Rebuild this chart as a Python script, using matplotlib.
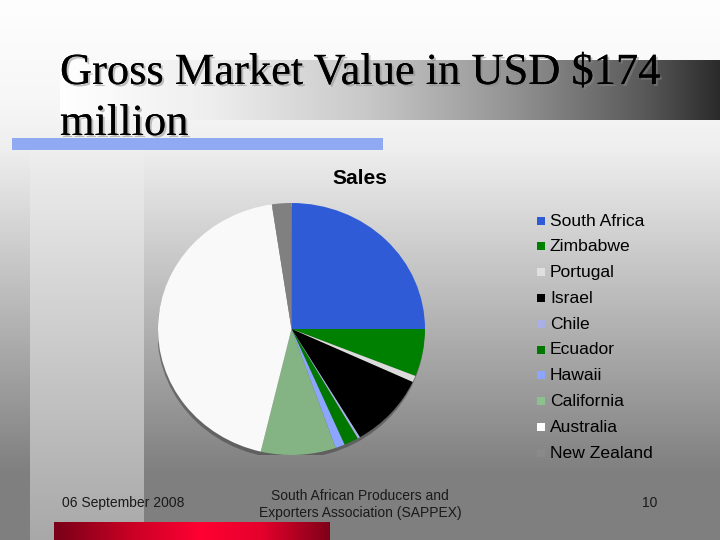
import numpy as np
import matplotlib
matplotlib.use("Agg")
import matplotlib.pyplot as plt
from matplotlib.patches import Rectangle, Ellipse
import matplotlib.patheffects as pe

# ---- data ----
categories = ["South Africa", "Zimbabwe", "Portugal", "Israel", "Chile",
              "Ecuador", "Hawaii", "California", "Australia", "New Zealand"]
shares = [25.0, 6.08, 0.83, 9.53, 0.30, 1.76, 1.14, 9.06, 43.94, 2.36]
slice_colors = ["#2f5bd6", "#008000", "#dcdcdc", "#000000", "#a8b0e4",
                "#007800", "#8ca6ff", "#84b484", "#f9f9f9", "#808080"]
legend_colors = ["#2f5bd6", "#008000", "#e0e0e0", "#000000", "#a8b0e4",
                 "#007800", "#8ca6ff", "#8cc08c", "#ffffff", "#8a8a8a"]
title_lines = ["Gross Market Value in USD $174", "million"]
chart_title = "Sales"
footer_left = "06 September 2008"
footer_mid = "South African Producers and\nExporters Association (SAPPEX)"
footer_right = "10"

W, H = 720, 540
fig = plt.figure(figsize=(7.2, 5.4), dpi=100)

# ---- slide background ----
bg = fig.add_axes([0, 0, 1, 1])
bg.set_xlim(0, W)
bg.set_ylim(H, 0)
bg.axis("off")

yy = np.arange(H)
xx = np.arange(W)
base = np.interp(yy, [0, 100, 150, 470, 540], [254, 247, 238, 128, 127])
img = np.repeat(base[:, None], W, axis=1)
strip = np.interp(yy, [140, 540], [240, 168])
img[140:, 30:144] = strip[140:, None]
band = np.interp(xx, [60, 211, 367, 505, 642, 720], [255, 238, 200, 150, 90, 42])
img[60:120, 60:] = band[None, 60:]
rgb = np.dstack([img, img, img]) / 255.0
bg.imshow(rgb, extent=(0, W, H, 0), aspect="auto", interpolation="bilinear", zorder=0)

# blue underline
bg.add_patch(Rectangle((12, 138), 371, 12, color="#8fa9f2", zorder=1, lw=0))

# red bottom bar
rx = np.arange(54, 330)
r = np.interp(rx, [54, 130, 200, 260, 330], [120, 200, 255, 230, 125])
g = np.zeros_like(r)
b = np.interp(rx, [54, 130, 200, 260, 330], [24, 36, 50, 44, 24])
red = np.dstack([np.tile(r, (18, 1)), np.tile(g, (18, 1)), np.tile(b, (18, 1))]) / 255.0
bg.imshow(red, extent=(54, 330, 540, 522), aspect="auto", zorder=1)

# titles
shadow = [pe.withSimplePatchShadow(offset=(1.5, -1.5), shadow_rgbFace="#888888", alpha=0.5),
          pe.Normal()]
bg.text(60, 84, title_lines[0], fontsize=32, family="Liberation Serif",
        va="baseline", ha="left", color="black", path_effects=shadow, zorder=3)
bg.text(60, 135, title_lines[1], fontsize=32, family="Liberation Serif",
        va="baseline", ha="left", color="black", path_effects=shadow, zorder=3)

bg.text(360, 178, chart_title, fontsize=15, fontweight="bold", family="Liberation Sans",
        ha="center", va="center", color="black", zorder=3)

# legend
for i, (name, col) in enumerate(zip(categories, legend_colors)):
    yc = 221 + i * 25.8
    bg.add_patch(Rectangle((537, yc - 4.5), 8, 8, color=col, lw=0, zorder=3))
    bg.text(550, yc, name, fontsize=12.6, family="Liberation Sans",
            ha="left", va="center", color="black", zorder=3)

# footer
bg.text(62, 503, footer_left, fontsize=10, family="Liberation Sans",
        ha="left", va="center", color="#1a1a1a", zorder=3)
bg.text(360, 504.5, footer_mid, fontsize=10, family="Liberation Sans",
        ha="center", va="center", color="#1a1a1a", linespacing=1.25, zorder=3)
bg.text(650, 503, footer_right, fontsize=10, family="Liberation Sans",
        ha="center", va="center", color="#1a1a1a", zorder=3)

# ---- pie ----
cx, cy, rxp, ryp = 291.5, 329, 133.5, 126
ax = fig.add_axes([(cx - rxp) / W, 1 - (cy + ryp) / H, 2 * rxp / W, 2 * ryp / H])
ax.patch.set_alpha(0)
ax.add_patch(Ellipse((-0.005, -0.03), 2.0, 2.0, color="#3a3a3a", alpha=0.5, lw=0, zorder=0))
wedges, _ = ax.pie(shares, colors=slice_colors, startangle=90, counterclock=False,
                   wedgeprops=dict(linewidth=0, zorder=2))
ax.set_aspect("auto")
ax.set_xlim(-1, 1)
ax.set_ylim(-1, 1)
ax.axis("off")

fig.savefig("out.png", dpi=100)
